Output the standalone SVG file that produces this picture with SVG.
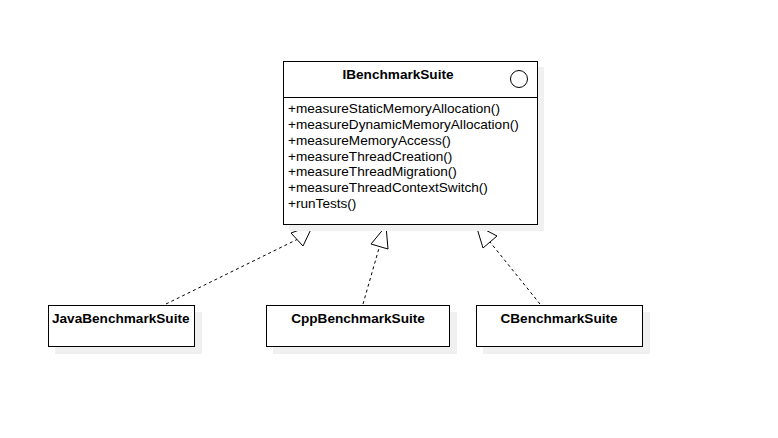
<svg xmlns="http://www.w3.org/2000/svg" width="778" height="438" viewBox="0 0 778 438">
<defs>
<style>
.shadow{fill:#f0f0f0;stroke:none}
.box{fill:#ffffff;stroke:#000000;stroke-width:1}
.title{font-family:"Liberation Sans",Arial,sans-serif;font-size:13.6px;font-weight:bold;fill:#000}
.op{font-family:"Liberation Sans",Arial,sans-serif;font-size:13.6px;fill:#000}
.dep{fill:none;stroke:#000;stroke-width:1;stroke-dasharray:3,3}
.head{fill:#fff;stroke:#000;stroke-width:1}
</style>
</defs>
<rect width="778" height="438" fill="#ffffff"/>
<g id="connectors">
<line class="dep" x1="166" y1="304" x2="297" y2="239.5"/>
<polygon class="head" points="313,225 291,233 303,246"/>
<line class="dep" x1="363" y1="304" x2="379.5" y2="246.5"/>
<polygon class="head" points="386,226 371,244 388,249"/>
<line class="dep" x1="540" y1="304" x2="490" y2="242"/>
<polygon class="head" points="476,225 483,248 497,236"/>
</g>
<g id="IBenchmarkSuite">
<rect class="shadow" x="289" y="67" width="255" height="164"/>
<rect class="box" x="283.5" y="61.5" width="254" height="163"/>
<line x1="283.5" y1="97.5" x2="537.5" y2="97.5" stroke="#000"/>
<circle cx="519" cy="79" r="8.5" fill="#fff" stroke="#000"/>
<text class="title" x="398" y="79" text-anchor="middle">IBenchmarkSuite</text>
<text class="op" x="288" y="113">+measureStaticMemoryAllocation()</text>
<text class="op" x="288" y="129">+measureDynamicMemoryAllocation()</text>
<text class="op" x="288" y="145">+measureMemoryAccess()</text>
<text class="op" x="288" y="161">+measureThreadCreation()</text>
<text class="op" x="288" y="176">+measureThreadMigration()</text>
<text class="op" x="288" y="192">+measureThreadContextSwitch()</text>
<text class="op" x="288" y="208">+runTests()</text>
</g>
<g id="JavaBenchmarkSuite">
<rect class="shadow" x="55" y="312" width="147" height="42"/>
<rect class="box" x="48.5" y="305.5" width="146" height="41"/>
<text class="title" x="52" y="323">JavaBenchmarkSuite</text>
</g>
<g id="CppBenchmarkSuite">
<rect class="shadow" x="273" y="312" width="184" height="42"/>
<rect class="box" x="266.5" y="305.5" width="183" height="41"/>
<text class="title" x="358" y="323" text-anchor="middle">CppBenchmarkSuite</text>
</g>
<g id="CBenchmarkSuite">
<rect class="shadow" x="483" y="312" width="167" height="42"/>
<rect class="box" x="476.5" y="305.5" width="166" height="41"/>
<text class="title" x="559" y="323" text-anchor="middle">CBenchmarkSuite</text>
</g>
</svg>
